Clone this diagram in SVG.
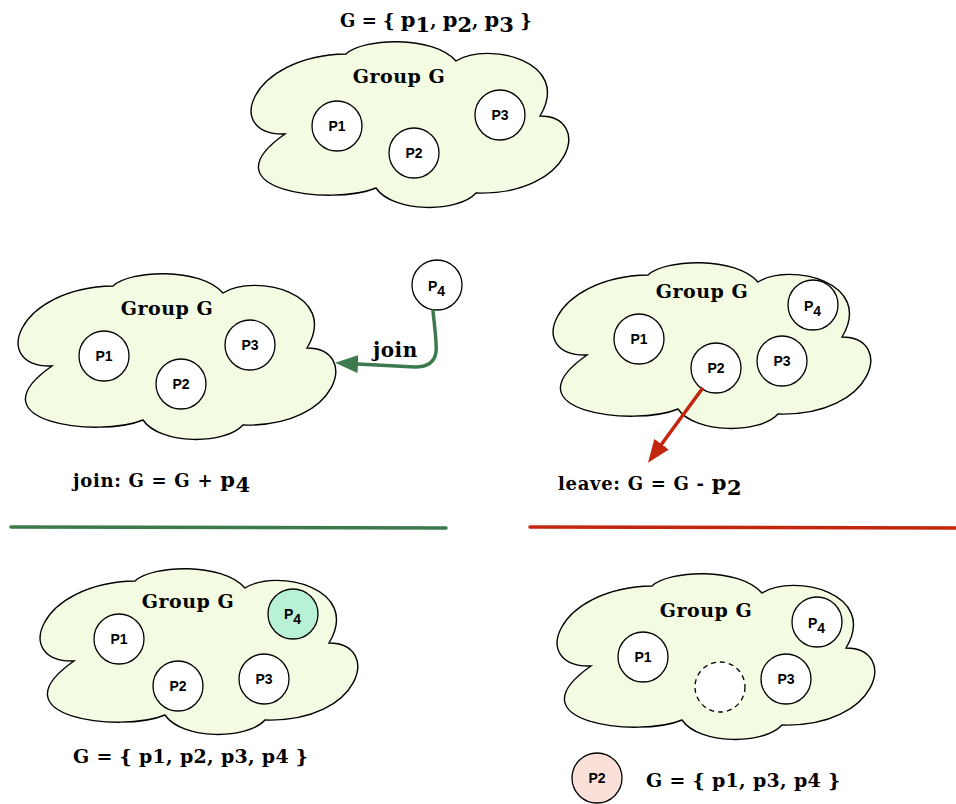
<svg xmlns="http://www.w3.org/2000/svg" width="956" height="804" viewBox="0 0 956 804">
<defs>
<style>
.cloud{fill:#f3fbe3;stroke:#000;stroke-width:1.4}
.pc{fill:#fff;stroke:#000;stroke-width:1.3}
.pl{font-family:"Liberation Sans",Arial,sans-serif;font-weight:bold;font-size:14px;fill:#000}
.f{font-family:"DejaVu Serif","Liberation Serif",serif;font-weight:bold;fill:#000}
.gg{font-size:19px;text-anchor:middle;letter-spacing:0.5px}
.eq{font-size:18px;letter-spacing:0.7px}
.tt{font-size:18px}
.set{font-size:19px;letter-spacing:0.3px}
.big{font-size:21px}
.green{stroke:#3c7a4d;fill:none;stroke-width:3.5;stroke-linecap:round}
.red{stroke:#c3260f;fill:none;stroke-width:3.5;stroke-linecap:round}
</style>
<path id="cloud" d="M 93,13 C 110,-3 180,-6 203,20 C 235,0 320,20 287,75 C 340,75 320,155 223,152 C 205,172 140,172 123,147 C 80,165 -50,150 32,93 C -30,95 -5,15 93,13 Z"/>
<marker id="ahG" markerUnits="userSpaceOnUse" markerWidth="24" markerHeight="18" refX="1" refY="9" orient="auto"><path d="M0,0 L23,9 L0,18 z" fill="#3c7a4d"/></marker>
<marker id="ahR" markerUnits="userSpaceOnUse" markerWidth="24" markerHeight="18" refX="1" refY="9" orient="auto"><path d="M0,0 L23,9 L0,18 z" fill="#c3260f"/></marker>
</defs>
<rect width="956" height="804" fill="#fff"/>

<!-- Title -->
<text class="f tt" x="340" y="27">G = { <tspan class="big">p</tspan><tspan class="big" dy="5">1</tspan><tspan dy="-5">, </tspan><tspan class="big">p</tspan><tspan class="big" dy="5">2</tspan><tspan dy="-5">, </tspan><tspan class="big">p</tspan><tspan class="big" dy="5">3</tspan><tspan dy="-5"> }</tspan></text>

<!-- Top cloud -->
<g id="cloud-top">
<use href="#cloud" x="253" y="41" class="cloud"/>
<text class="f gg" x="399" y="83">Group G</text>
</g>
<g id="top-p1"><circle class="pc" cx="337" cy="126" r="25"/><text class="pl" x="337" y="131" text-anchor="middle">P1</text></g>
<g id="top-p2"><circle class="pc" cx="414" cy="153" r="25"/><text class="pl" x="414" y="158" text-anchor="middle">P2</text></g>
<g id="top-p3"><circle class="pc" cx="500" cy="115" r="25"/><text class="pl" x="500" y="120" text-anchor="middle">P3</text></g>

<!-- Middle left cloud -->
<g id="cloud-join">
<use href="#cloud" x="20" y="273" class="cloud"/>
<text class="f gg" x="167" y="315">Group G</text>
</g>
<g id="join-p1"><circle class="pc" cx="104" cy="356" r="25"/><text class="pl" x="104" y="361" text-anchor="middle">P1</text></g>
<g id="join-p2"><circle class="pc" cx="181" cy="384" r="25"/><text class="pl" x="181" y="389" text-anchor="middle">P2</text></g>
<g id="join-p3"><circle class="pc" cx="250" cy="345" r="25"/><text class="pl" x="250" y="350" text-anchor="middle">P3</text></g>
<g id="join-p4"><circle class="pc" cx="437" cy="285" r="25"/><text class="pl" x="428" y="291">P<tspan dy="5">4</tspan></text></g>
<text class="f" x="373" y="357" font-size="20" letter-spacing="0.5">join</text>
<text class="f eq" x="73" y="487">join: G = G + <tspan class="big">p</tspan><tspan class="big" dy="5">4</tspan></text>

<!-- Middle right cloud -->
<g id="cloud-leave">
<use href="#cloud" x="555" y="262" class="cloud"/>
<text class="f gg" x="702" y="298">Group G</text>
</g>
<g id="leave-p1"><circle class="pc" cx="639" cy="339" r="25"/><text class="pl" x="639" y="344" text-anchor="middle">P1</text></g>
<g id="leave-p3"><circle class="pc" cx="782" cy="361" r="25"/><text class="pl" x="782" y="366" text-anchor="middle">P3</text></g>
<g id="leave-p4"><circle class="pc" cx="813" cy="305" r="25"/><text class="pl" x="804" y="311">P<tspan dy="5">4</tspan></text></g>
<g id="leave-p2"><circle class="pc" cx="716" cy="368" r="25"/><text class="pl" x="716" y="373" text-anchor="middle">P2</text></g>
<text class="f eq" x="558" y="490">leave: G = G - <tspan class="big">p</tspan><tspan class="big" dy="5">2</tspan></text>

<!-- Connectors -->
<g id="connectors">
<path class="green" d="M 433,311 C 435,330 437,345 436,352 Q 434,367 415,367 L 357,364" marker-end="url(#ahG)"/>
<path class="red" d="M 702,389 L 661,445" marker-end="url(#ahR)"/>
<line class="green" x1="11" y1="527" x2="446" y2="528"/>
<line class="red" x1="530" y1="527" x2="956" y2="528"/>
</g>

<!-- Bottom left cloud -->
<g id="cloud-after-join">
<use href="#cloud" x="42" y="568" class="cloud"/>
<text class="f gg" x="188" y="608">Group G</text>
</g>
<g id="aj-p1"><circle class="pc" cx="119" cy="639" r="25"/><text class="pl" x="119" y="644" text-anchor="middle">P1</text></g>
<g id="aj-p2"><circle class="pc" cx="178" cy="686" r="25"/><text class="pl" x="178" y="691" text-anchor="middle">P2</text></g>
<g id="aj-p3"><circle class="pc" cx="264" cy="679" r="25"/><text class="pl" x="264" y="684" text-anchor="middle">P3</text></g>
<g id="aj-p4"><circle class="pc" cx="293" cy="614" r="25" style="fill:#b9f1d6"/><text class="pl" x="284" y="619">P<tspan dy="5">4</tspan></text></g>
<text class="f set" x="73" y="763">G = { p1, p2, p3, p4 }</text>

<!-- Bottom right cloud -->
<g id="cloud-after-leave">
<use href="#cloud" x="559" y="573" class="cloud"/>
<text class="f gg" x="706" y="617">Group G</text>
</g>
<g id="al-p1"><circle class="pc" cx="643" cy="657" r="25"/><text class="pl" x="643" y="662" text-anchor="middle">P1</text></g>
<g id="al-empty"><circle class="pc" cx="720" cy="687" r="25" style="stroke-dasharray:5,4"/></g>
<g id="al-p3"><circle class="pc" cx="786" cy="679" r="25"/><text class="pl" x="786" y="684" text-anchor="middle">P3</text></g>
<g id="al-p4"><circle class="pc" cx="817" cy="622" r="25"/><text class="pl" x="808" y="628">P<tspan dy="5">4</tspan></text></g>
<g id="al-p2"><circle class="pc" cx="597" cy="778" r="25" style="fill:#fbe0da"/><text class="pl" x="597" y="783" text-anchor="middle">P2</text></g>
<text class="f set" x="646" y="787">G = { p1, p3, p4 }</text>
</svg>
